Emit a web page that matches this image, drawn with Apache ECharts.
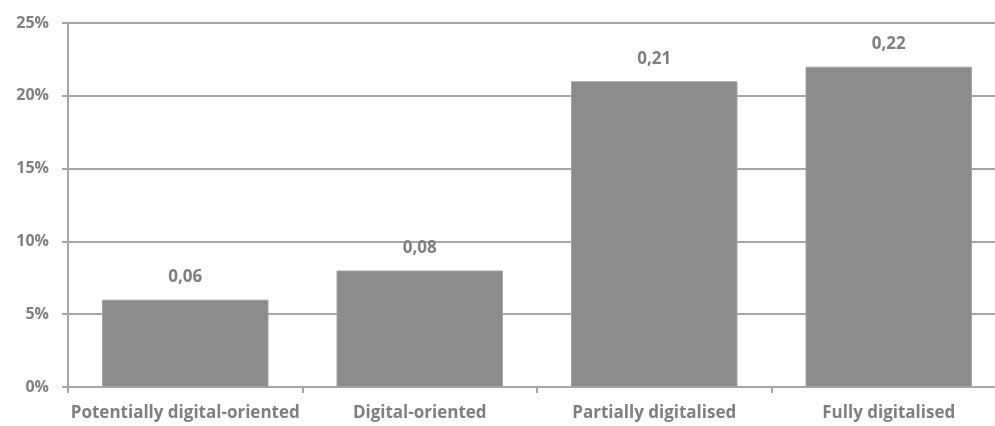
<!DOCTYPE html>
<html>
<head>
<meta charset="utf-8">
<script src="https://cdn.jsdelivr.net/npm/echarts@6/dist/echarts.min.js"></script>
<style>
  html, body { margin: 0; padding: 0; background: #fff; overflow: hidden; }
  #chart { width: 1010px; height: 426px; }
</style>
</head>
<body>
<div id="chart"></div>
<script>
  var categories = ['Potentially digital-oriented', 'Digital-oriented', 'Partially digitalised', 'Fully digitalised'];
  var shares = [0.06, 0.08, 0.21, 0.22];
  var yTicks = [0, 0.05, 0.10, 0.15, 0.20, 0.25];

  var chart = echarts.init(document.getElementById('chart'));

  var option = {
    animation: false,
    textStyle: { fontFamily: 'Open Sans', fontWeight: 'bold' },
    grid: { left: 68, top: 23, width: 938, height: 364 },
    xAxis: {
      type: 'category',
      data: categories,
      axisLine: { lineStyle: { color: '#a6a6a6', width: 2 } },
      axisTick: { show: true, length: 6, lineStyle: { color: '#a6a6a6', width: 2 } },
      axisLabel: { interval: 0, color: '#7f7f7f', fontSize: 17, fontWeight: 'bold', margin: 18, fontFamily: 'Open Sans' }
    },
    yAxis: {
      type: 'value',
      min: yTicks[0],
      max: yTicks[yTicks.length - 1],
      interval: 0.05,
      axisLine: { show: true, lineStyle: { color: '#a6a6a6', width: 2 } },
      axisTick: { show: true, length: 6, lineStyle: { color: '#a6a6a6', width: 2 } },
      splitLine: { lineStyle: { color: '#a6a6a6', width: 2 } },
      axisLabel: {
        color: '#7f7f7f', fontSize: 16, fontWeight: 'bold', margin: 19, fontFamily: 'Open Sans',
        formatter: function(v) { return Math.round(v * 100) + '%'; }
      }
    },
    series: [{
      type: 'bar',
      data: shares,
      barCategoryGap: '29%',
      itemStyle: { color: '#8c8c8c', borderColor: '#a3a3a3', borderWidth: 1 },
      label: {
        show: true,
        position: 'top',
        distance: 14,
        color: '#7f7f7f',
        fontSize: 17,
        fontWeight: 'bold',
        fontFamily: 'Open Sans',
        formatter: function(p) { return p.value.toFixed(2).replace('.', ','); }
      }
    }]
  };

  chart.setOption(option);
</script>
</body>
</html>
